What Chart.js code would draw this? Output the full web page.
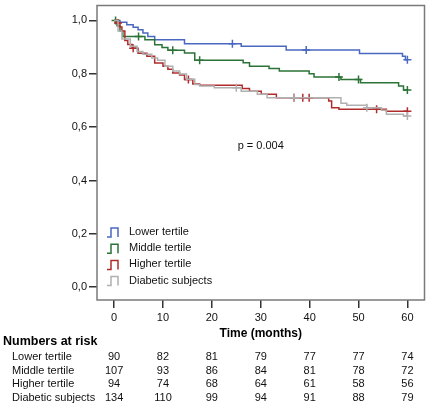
<!DOCTYPE html>
<html>
<head>
<meta charset="utf-8">
<script src="https://cdn.jsdelivr.net/npm/chart.js@4.4.1/dist/chart.umd.min.js"></script>
<style>
  html, body { margin: 0; padding: 0; background: #fff; }
</style>
</head>
<body>
<canvas id="km" width="430" height="407"></canvas>
<script>
const groups = ['Lower tertile', 'Middle tertile', 'Higher tertile', 'Diabetic subjects']
const colors = ['#4a68c0', '#2b7336', '#b02c2c', '#b0b0b0']

// Kaplan-Meier steps (time in months, survival after the step)
const lowerTimes = [0, 1.2, 2.6, 3.9, 4.9, 5.9, 6.9, 8.3, 14.4, 26.0, 35.2, 50.2, 59.0, 59.6, 60]
const lowerSurv = [1.0, 0.993, 0.984, 0.974, 0.965, 0.953, 0.94, 0.928, 0.913, 0.903, 0.889, 0.876, 0.866, 0.853, 0.853]
const lowerCensor = [24.2, 39.3, 60]

const middleTimes = [0, 0.6, 1.2, 1.8, 6.3, 8.3, 9.8, 11.0, 14.4, 16.5, 26.4, 27.7, 31.7, 33.8, 39.9, 40.9, 46.4, 50.4, 58.2, 59.2, 60]
const middleSurv = [1.0, 0.98, 0.96, 0.94, 0.928, 0.909, 0.899, 0.888, 0.878, 0.851, 0.841, 0.828, 0.82, 0.81, 0.80, 0.788, 0.779, 0.766, 0.754, 0.739, 0.739]
const middleCensor = [0.3, 5.0, 12.0, 17.5, 46.0, 50.0, 60]

const higherTimes = [0, 0.6, 1.2, 1.6, 2.2, 2.8, 3.7, 4.9, 6.7, 8.3, 10.0, 11.0, 12.0, 13.4, 14.4, 16.1, 17.5, 26.2, 27.7, 30.1, 33.2, 43.9, 44.5, 46.0, 55.7, 60]
const higherSurv = [1.0, 0.99, 0.975, 0.96, 0.925, 0.91, 0.896, 0.877, 0.866, 0.84, 0.828, 0.817, 0.803, 0.795, 0.779, 0.762, 0.757, 0.745, 0.735, 0.723, 0.71, 0.698, 0.673, 0.667, 0.66, 0.66]
const higherCensor = [0.8, 3.9, 15.2, 36.8, 38.6, 39.9, 53.7, 60]

const diabeticTimes = [0, 0.8, 1.6, 3.3, 4.7, 5.9, 7.7, 8.9, 10.4, 12.0, 13.4, 14.8, 16.5, 17.5, 20.5, 26.0, 29.3, 31.3, 46.4, 47.6, 51.7, 54.7, 55.7, 59.2, 60]
const diabeticSurv = [1.0, 0.96, 0.93, 0.903, 0.884, 0.873, 0.859, 0.851, 0.828, 0.81, 0.799, 0.78, 0.76, 0.754, 0.748, 0.735, 0.723, 0.71, 0.69, 0.682, 0.673, 0.663, 0.648, 0.642, 0.642]
const diabeticCensor = [25.0, 36.8, 51.7, 60]

const xTicks = [0, 10, 20, 30, 40, 50, 60]
const yTicks = [0, 0.2, 0.4, 0.6, 0.8, 1.0]

// numbers at risk at each x tick
const lowerRisk = [90, 82, 81, 79, 77, 77, 74]
const middleRisk = [107, 93, 86, 84, 81, 78, 72]
const higherRisk = [94, 74, 68, 64, 61, 58, 56]
const diabeticRisk = [134, 110, 99, 94, 91, 88, 79]

const pText = 'p = 0.004'

const curves = [
  [lowerTimes, lowerSurv, lowerCensor],
  [middleTimes, middleSurv, middleCensor],
  [higherTimes, higherSurv, higherCensor],
  [diabeticTimes, diabeticSurv, diabeticCensor]
]
const riskRows = [lowerRisk, middleRisk, higherRisk, diabeticRisk]

const survAt = (times, surv, t) => {
  let s = surv[0]
  times.forEach((tt, i) => { if (tt <= t) s = surv[i] })
  return s
}

const FONT = '"Liberation Sans", Arial, sans-serif'

const datasets = []
// draw from last to first so blue sits on top
for (let g = curves.length - 1; g >= 0; g--) {
  const [times, surv, cens] = curves[g]
  datasets.push({
    type: 'line',
    label: groups[g],
    data: times.map((t, i) => ({ x: t, y: surv[i] })),
    borderColor: colors[g],
    borderWidth: 1.5,
    stepped: 'before',
    pointRadius: 0,
    fill: false
  })
  datasets.push({
    type: 'scatter',
    label: groups[g] + ' censored',
    data: cens.map(t => ({ x: t, y: survAt(times, surv, t) })),
    borderColor: colors[g],
    backgroundColor: colors[g],
    pointStyle: 'cross',
    pointRadius: 4,
    borderWidth: 1.5
  })
}

const frameAndText = {
  id: 'frameAndText',
  afterDraw(chart) {
    const ctx = chart.ctx
    const a = chart.chartArea
    const xs = chart.scales.x
    const ys = chart.scales.y
    ctx.save()
    // plot frame
    ctx.strokeStyle = '#7a7a7a'
    ctx.lineWidth = 1.5
    ctx.strokeRect(a.left, a.top, a.right - a.left, a.bottom - a.top)

    // p value
    ctx.fillStyle = '#111'
    ctx.font = '11px ' + FONT
    ctx.textAlign = 'center'
    ctx.textBaseline = 'middle'
    ctx.fillText(pText, xs.getPixelForValue(30), ys.getPixelForValue(0.53))

    // legend
    ctx.textAlign = 'left'
    groups.forEach((name, i) => {
      const lx = 107
      const ly = 232 + i * 16.2
      ctx.strokeStyle = colors[i]
      ctx.lineWidth = 1.5
      ctx.beginPath()
      ctx.moveTo(lx, ly + 5)
      ctx.lineTo(lx + 4, ly + 5)
      ctx.lineTo(lx + 4, ly - 4)
      ctx.lineTo(lx + 11, ly - 4)
      ctx.lineTo(lx + 11, ly + 5)
      ctx.stroke()
      ctx.fillStyle = '#111'
      ctx.fillText(name, 129, ly)
    })

    // axis title
    ctx.fillStyle = '#000'
    ctx.font = 'bold 12px ' + FONT
    ctx.textAlign = 'center'
    ctx.fillText('Time (months)', (a.left + a.right) / 2, 334)

    // numbers at risk table
    ctx.textAlign = 'left'
    ctx.font = 'bold 12.5px ' + FONT
    ctx.fillText('Numbers at risk', 3, 342)
    ctx.font = '11px ' + FONT
    ctx.fillStyle = '#111'
    riskRows.forEach((row, i) => {
      const y = 357 + i * 13.5
      ctx.textAlign = 'left'
      ctx.fillText(groups[i], 12, y)
      ctx.textAlign = 'center'
      row.forEach((n, j) => ctx.fillText(String(n), xs.getPixelForValue(xTicks[j]), y))
    })
    ctx.restore()
  }
}

new Chart(document.getElementById('km'), {
  data: { datasets },
  options: {
    responsive: false,
    animation: false,
    devicePixelRatio: 1,
    layout: { padding: { top: 4, right: 4, left: 0, bottom: 0 } },
    plugins: {
      legend: { display: false },
      tooltip: { enabled: false }
    },
    scales: {
      x: {
        type: 'linear',
        min: -3.5,
        max: 63.5,
        afterBuildTicks: s => { s.ticks = xTicks.map(v => ({ value: v })) },
        afterFit: s => { s.height = 107; s.paddingLeft = 0; s.paddingRight = 0 },
        border: { display: false },
        grid: { drawOnChartArea: false, drawTicks: true, tickLength: 8, color: '#333', lineWidth: 1.5 },
        ticks: { color: '#111', font: { size: 11, family: FONT }, padding: 3, maxRotation: 0 }
      },
      y: {
        type: 'linear',
        min: -0.048,
        max: 1.056,
        afterBuildTicks: s => { s.ticks = yTicks.map(v => ({ value: v })) },
        afterFit: s => { s.width = 97; s.paddingTop = 0; s.paddingBottom = 0 },
        border: { display: false },
        grid: { drawOnChartArea: false, drawTicks: true, tickLength: 8, color: '#333', lineWidth: 1.5 },
        ticks: {
          color: '#111',
          font: { size: 11, family: FONT },
          padding: 2,
          callback: v => v.toFixed(1).replace('.', ',')
        }
      }
    }
  },
  plugins: [frameAndText]
})
</script>
</body>
</html>
